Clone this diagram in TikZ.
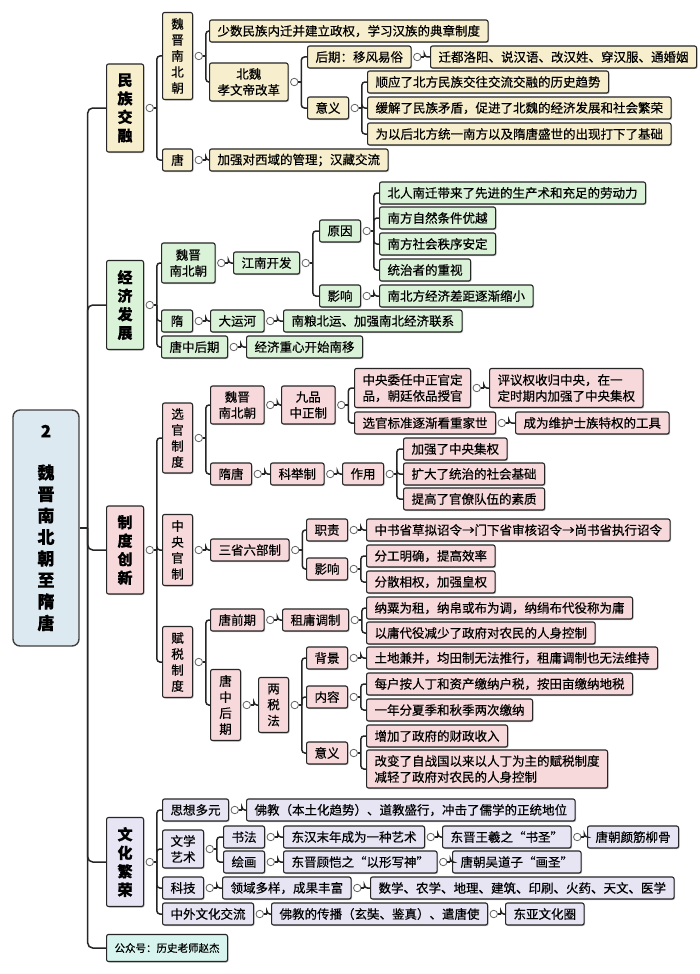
\documentclass[tikz,border=0pt]{standalone}
\usepackage{fontspec}
\setmainfont{Noto Sans CJK SC}[FakeBold=0.5]
\usetikzlibrary{positioning,shadows}

\definecolor{minzu}{RGB}{246,238,204}
\definecolor{jingji}{RGB}{218,242,216}
\definecolor{zhidu}{RGB}{247,217,219}
\definecolor{wenhua}{RGB}{231,228,244}
\definecolor{rootc}{RGB}{221,233,241}
\definecolor{gzh}{RGB}{216,244,238}

\tikzset{
  box/.style={draw=black!85, line width=1.1pt, rounded corners=2pt, anchor=west,
    inner xsep=8pt, inner ysep=2pt, minimum height=22pt,
    font=\fontsize{12.5}{16}\selectfont,
    drop shadow={shadow xshift=1pt, shadow yshift=-1pt, opacity=0.5}},
  ybox/.style={box, fill=minzu},
  gbox/.style={box, fill=jingji},
  pbox/.style={box, fill=zhidu},
  lbox/.style={box, fill=wenhua},
  vtext/.style={text width=13pt, align=center, inner xsep=8.5pt},
  mbox/.style={box, text width=16pt, align=center, inner xsep=10.5pt,
    font=\fontsize{15}{18.5}\selectfont\bfseries},
  rootbox/.style={draw=black!75, line width=1.4pt, rounded corners=7pt, fill=rootc,
    text width=20pt, align=center, inner xsep=23pt, minimum height=236pt,
    font=\fontsize{17}{21.5}\selectfont\bfseries},
  knob/.style={circle, draw=black!60, fill=white, line width=0.8pt,
    inner sep=0pt, minimum size=7.5pt},
  link/.style={line width=1.5pt, black!85, rounded corners=3pt}
}

% knob after the parent, then a fork to every child
\newcommand\branch[2]{%
  \node[knob, right=1.5pt of #1] (#1k) {};
  \draw[link] (#1k.east) -- ++(3,0) coordinate (#1j);
  \foreach \c in {#2}{\draw[link] (#1j) |- (\c.west);}
}

\begin{document}
\begin{tikzpicture}[x=1pt,y=-1pt]
\fill[white] (0,0) rectangle (700,974);
\useasboundingbox (0,0) rectangle (700,974);

\node[rootbox] (root) at (46,528) {2\\[20pt]魏\\晋\\南\\北\\朝\\至\\隋\\唐};

\node[mbox, fill=minzu, minimum height=88pt] (m1) at (106,108) {民\\族\\交\\融};
\node[mbox, fill=jingji, minimum height=89pt] (m2) at (106,305) {经\\济\\发\\展};
\node[mbox, fill=zhidu, minimum height=88pt] (m3) at (106,550) {制\\度\\创\\新};
\node[mbox, fill=wenhua, minimum height=89pt] (m4) at (106,862) {文\\化\\繁\\荣};
\node[box, fill=gzh, font=\fontsize{10.5}{13}\selectfont, minimum height=27pt] (m5) at (106,948) {公众号：历史老师赵杰};

\draw[link] (root.east) -- ++(8,0) coordinate (trunk);
\foreach \m in {m1,m2,m3,m4,m5}
  \draw[link, rounded corners=5pt] (trunk) |- (\m.west);

% 民族交融
\node[ybox, vtext, minimum height=87pt] (a1) at (162,56) {魏\\晋\\南\\北\\朝};
\node[ybox] (a11) at (209,31) {少数民族内迁并建立政权，学习汉族的典章制度};
\node[ybox, align=center, minimum height=38pt] (a12) at (209,82) {北魏\\孝文帝改革};
\node[ybox] (a121) at (307,57) {后期：移风易俗};
\node[ybox] (a1211) at (430,57) {迁都洛阳、说汉语、改汉姓、穿汉服、通婚姻};
\node[ybox] (a122) at (307,108) {意义};
\node[ybox] (a1221) at (367,82) {顺应了北方民族交往交流交融的历史趋势};
\node[ybox] (a1222) at (367,108) {缓解了民族矛盾，促进了北魏的经济发展和社会繁荣};
\node[ybox] (a1223) at (367,134) {为以后北方统一南方以及隋唐盛世的出现打下了基础};
\node[ybox, minimum width=30pt] (a2) at (162,160) {唐};
\node[ybox] (a21) at (209,160) {加强对西域的管理；汉藏交流};

% 经济发展
\node[gbox, align=center, minimum height=40pt] (b1) at (161,263) {魏晋\\南北朝};
\node[gbox] (b11) at (233,263) {江南开发};
\node[gbox] (b111) at (319,231) {原因};
\node[gbox] (b1111) at (379,193) {北人南迁带来了先进的生产术和充足的劳动力};
\node[gbox] (b1112) at (379,218) {南方自然条件优越};
\node[gbox] (b1113) at (379,244) {南方社会秩序安定};
\node[gbox] (b1114) at (379,270) {统治者的重视};
\node[gbox] (b112) at (319,296) {影响};
\node[gbox] (b1121) at (379,296) {南北方经济差距逐渐缩小};
\node[gbox, minimum width=31pt] (b2) at (161,321) {隋};
\node[gbox] (b21) at (210,321) {大运河};
\node[gbox] (b211) at (283,321) {南粮北运、加强南北经济联系};
\node[gbox] (b3) at (161,347) {唐中后期};
\node[gbox] (b31) at (246,347) {经济重心开始南移};

% 制度创新
\node[pbox, vtext, minimum height=70pt] (c1) at (162,438) {选\\官\\制\\度};
\node[pbox, align=center, minimum height=38pt] (c11) at (210,405) {魏晋\\南北朝};
\node[pbox, align=center, minimum height=38pt] (c111) at (281,405) {九品\\中正制};
\node[pbox, align=left, minimum height=39pt] (c1111) at (354,388) {中央委任中正官定\\品，朝廷依品授官};
\node[pbox, align=left, minimum height=39pt] (c11111) at (489,388) {评议权收归中央，在一\\定时期内加强了中央集权};
\node[pbox] (c1112) at (354,423) {选官标准逐渐看重家世};
\node[pbox] (c11121) at (515,423) {成为维护士族特权的工具};
\node[pbox] (c12) at (210,474) {隋唐};
\node[pbox] (c121) at (270,474) {科举制};
\node[pbox] (c1211) at (342,474) {作用};
\node[pbox] (c12111) at (403,449) {加强了中央集权};
\node[pbox] (c12112) at (403,474) {扩大了统治的社会基础};
\node[pbox] (c12113) at (403,499) {提高了官僚队伍的素质};
\node[pbox, vtext, minimum height=71pt] (c2) at (162,550) {中\\央\\官\\制};
\node[pbox] (c21) at (210,550) {三省六部制};
\node[pbox] (c211) at (306,530) {职责};
\node[pbox] (c2111) at (366,530) {中书省草拟诏令→门下省审核诏令→尚书省执行诏令};
\node[pbox] (c212) at (306,569) {影响};
\node[pbox] (c2121) at (366,556) {分工明确，提高效率};
\node[pbox] (c2122) at (366,582) {分散相权，加强皇权};
\node[pbox, vtext, minimum height=71pt] (c3) at (162,662) {赋\\税\\制\\度};
\node[pbox] (c31) at (210,620) {唐前期};
\node[pbox] (c311) at (282,620) {租庸调制};
\node[pbox] (c3111) at (366,608) {纳粟为租，纳帛或布为调，纳绢布代役称为庸};
\node[pbox] (c3112) at (366,633) {以庸代役减少了政府对农民的人身控制};
\node[pbox, vtext, minimum height=71pt] (c32) at (210,705) {唐\\中\\后\\期};
\node[pbox, vtext, minimum height=55pt] (c321) at (258,705) {两\\税\\法};
\node[pbox] (c3211) at (306,658) {背景};
\node[pbox] (c32111) at (366,658) {土地兼并，均田制无法推行，租庸调制也无法维持};
\node[pbox] (c3212) at (306,697) {内容};
\node[pbox] (c32121) at (366,684) {每户按人丁和资产缴纳户税，按田亩缴纳地税};
\node[pbox] (c32122) at (366,710) {一年分夏季和秋季两次缴纳};
\node[pbox] (c3213) at (306,753) {意义};
\node[pbox] (c32131) at (366,736) {增加了政府的财政收入};
\node[pbox, align=left, minimum height=38pt] (c32132) at (366,769) {改变了自战国以来以人丁为主的赋税制度\\减轻了政府对农民的人身控制};

% 文化繁荣
\node[lbox] (d1) at (162,810) {思想多元};
\node[lbox] (d11) at (246,810) {佛教（本土化趋势）、道教盛行，冲击了儒学的正统地位};
\node[lbox, align=center, minimum height=38pt] (d2) at (162,849) {文学\\艺术};
\node[lbox] (d21) at (223,837) {书法};
\node[lbox] (d211) at (283,837) {东汉末年成为一种艺术};
\node[lbox] (d2111) at (442,837) {东晋王羲之“书圣”};
\node[lbox] (d21111) at (587,837) {唐朝颜筋柳骨};
\node[lbox] (d22) at (223,862) {绘画};
\node[lbox] (d221) at (283,862) {东晋顾恺之“以形写神”};
\node[lbox] (d2211) at (452,862) {唐朝吴道子“画圣”};
\node[lbox] (d3) at (162,888) {科技};
\node[lbox] (d31) at (222,888) {领域多样，成果丰富};
\node[lbox] (d311) at (370,888) {数学、农学、地理、建筑、印刷、火药、天文、医学};
\node[lbox] (d4) at (162,914) {中外文化交流};
\node[lbox] (d41) at (271,914) {佛教的传播（玄奘、鉴真）、遣唐使};
\node[lbox] (d411) at (505,914) {东亚文化圈};

\branch{m1}{a1,a2}
\branch{a1}{a11,a12}
\branch{a12}{a121,a122}
\branch{a121}{a1211}
\branch{a122}{a1221,a1222,a1223}
\branch{a2}{a21}
\branch{m2}{b1,b2,b3}
\branch{b1}{b11}
\branch{b11}{b111,b112}
\branch{b111}{b1111,b1112,b1113,b1114}
\branch{b112}{b1121}
\branch{b2}{b21}
\branch{b21}{b211}
\branch{b3}{b31}
\branch{m3}{c1,c2,c3}
\branch{c1}{c11,c12}
\branch{c11}{c111}
\branch{c111}{c1111,c1112}
\branch{c1111}{c11111}
\branch{c1112}{c11121}
\branch{c12}{c121}
\branch{c121}{c1211}
\branch{c1211}{c12111,c12112,c12113}
\branch{c2}{c21}
\branch{c21}{c211,c212}
\branch{c211}{c2111}
\branch{c212}{c2121,c2122}
\branch{c3}{c31,c32}
\branch{c31}{c311}
\branch{c311}{c3111,c3112}
\branch{c32}{c321}
\branch{c321}{c3211,c3212,c3213}
\branch{c3211}{c32111}
\branch{c3212}{c32121,c32122}
\branch{c3213}{c32131,c32132}
\branch{m4}{d1,d2,d3,d4}
\branch{d1}{d11}
\branch{d2}{d21,d22}
\branch{d21}{d211}
\branch{d211}{d2111}
\branch{d2111}{d21111}
\branch{d22}{d221}
\branch{d221}{d2211}
\branch{d3}{d31}
\branch{d31}{d311}
\branch{d4}{d41}
\branch{d41}{d411}
\end{tikzpicture}
\end{document}
